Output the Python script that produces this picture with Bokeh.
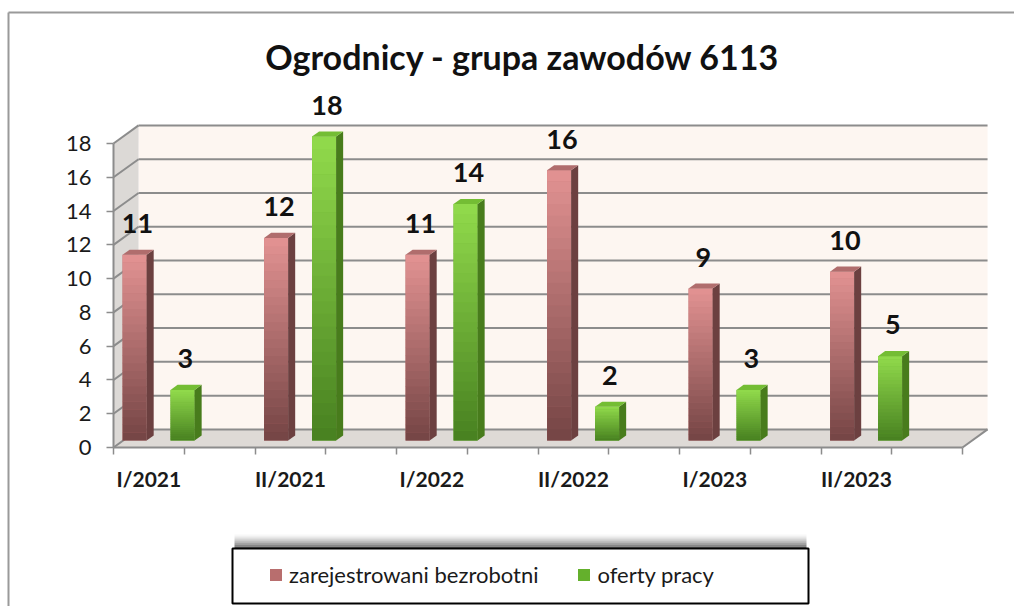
import numpy as np
from bokeh.plotting import figure
from bokeh.models import Range1d, FixedTicker, Legend, LegendItem
from bokeh.core.properties import value
from bokeh.embed import file_html
from bokeh.resources import INLINE

# ---------------- data ----------------
categories = ["I/2021", "II/2021", "I/2022", "II/2022", "I/2023", "II/2023"]
registered = [11, 12, 11, 16, 9, 10]
offers = [3, 18, 14, 2, 3, 5]
series_names = ["zarejestrowani bezrobotni", "oferty pracy"]
y_ticks = [0, 2, 4, 6, 8, 10, 12, 14, 16, 18]
title_text = "Ogrodnicy - grupa zawodów 6113"

# ---------------- layout / style constants ----------------
W, H = 1014, 606
FONT = "Lato"
X0PX, XPX = 113.0, 141.5       # pixel of x=0 and pixels per category
Y0PX, YPX = 447.0, 16.89       # pixel of y=0 and pixels per unit


def xd(px):
    return (px - X0PX) / XPX


def yd(py):
    return (Y0PX - py) / YPX


N = len(categories)
YMAX = y_ticks[-1]
DX, DY = 0.177, 1.07          # depth of the back wall (data units)
BASE = 0.41                    # bar base (mid depth)
BW = 0.17                      # bar front width
SDX, SDY = 0.05, 0.30          # bar side / top depth
OFFS = [0.064, 0.403]          # bar left position inside a category
NSTRIP = 24                    # gradient strips
LABEL_GAP = 1.85               # value label baseline above bar front top

front_cols = [("#744444", "#e39393"), ("#478020", "#92db4c")]   # (bottom, top)
side_cols = [("#4f2b2b", "#8a5656"), ("#335d10", "#5c9c28")]
top_cols = ["#b06d6d", "#74bd34"]
legend_cols = ["#b86e6e", "#64b02c"]
GRID = "#8c8c8c"


def hex2rgb(h):
    h = h.lstrip("#")
    return np.array([int(h[i:i + 2], 16) for i in (0, 2, 4)], dtype=float)


def lerp(c1, c2, t):
    c = hex2rgb(c1) * (1 - t) + hex2rgb(c2) * t
    return "#%02x%02x%02x" % tuple(int(round(v)) for v in c)


p = figure(width=W, height=H, title=None,
           x_range=Range1d(xd(0), xd(W)), y_range=Range1d(yd(H), yd(0)),
           output_backend="svg", toolbar_location=None,
           min_border=0, background_fill_color="white", border_fill_color="white")
p.outline_line_color = None
p.grid.visible = False

# ---------------- outer chart border ----------------
p.segment(x0=[xd(8), xd(8)], y0=[yd(12), yd(12)], x1=[xd(W), xd(8)], y1=[yd(12), yd(H)],
          line_color="#9a9a9a", line_width=2)

# ---------------- title ----------------
p.text(x=[xd(522)], y=[yd(56)], text=[title_text],
       text_font=value(FONT), text_font_style="bold", text_font_size="34px",
       text_color="#111111", text_align="center", text_baseline="middle")

# ---------------- walls & floor ----------------
p.quad(left=DX, right=N + DX, bottom=DY, top=YMAX + DY,
       fill_color="#fdf6f1", line_color=None)
p.patch([0, DX, DX, 0], [0, DY, YMAX + DY, YMAX],
        fill_color="#dcd9d6", line_color=None)
p.patch([0, N, N + DX, DX], [0, 0, DY, DY],
        fill_color="#dedad6", line_color=None)
p.segment(x0=[DX] * len(y_ticks), y0=[v + DY for v in y_ticks],
          x1=[N + DX] * len(y_ticks), y1=[v + DY for v in y_ticks],
          line_color=GRID, line_width=2)
p.segment(x0=[0] * len(y_ticks), y0=y_ticks,
          x1=[DX] * len(y_ticks), y1=[v + DY for v in y_ticks],
          line_color=GRID, line_width=2)
p.segment(x0=[N], y0=[0], x1=[N + DX], y1=[DY], line_color=GRID, line_width=2)

# ---------------- bars ----------------
legend_renderers = []
for s, vals in enumerate([registered, offers]):
    lefts = [i + OFFS[s] for i in range(N)]
    rights = [x + BW for x in lefts]
    tops = [BASE + v for v in vals]
    r = p.quad(left=lefts, right=rights, bottom=BASE, top=tops,
               fill_color=legend_cols[s], line_color=None)
    legend_renderers.append(r)
    # gradient strips on the front face
    sl, sr, sb, st, sc = [], [], [], [], []
    for x0, x1, t in zip(lefts, rights, tops):
        for k in range(NSTRIP):
            sl.append(x0)
            sr.append(x1)
            sb.append(BASE + (t - BASE) * k / NSTRIP)
            st.append(min(t, BASE + (t - BASE) * (k + 1) / NSTRIP + 0.02))
            sc.append(lerp(front_cols[s][0], front_cols[s][1], (k + 0.5) / NSTRIP))
    p.quad(left=sl, right=sr, bottom=sb, top=st, fill_color=sc, line_color=None)
    # side faces
    xs_side = [[x1, x1 + SDX, x1 + SDX, x1] for x1 in rights]
    ys_side = [[BASE, BASE + SDY, t + SDY, t] for t in tops]
    p.patches(xs_side, ys_side, fill_color=lerp(side_cols[s][0], side_cols[s][1], 0.5),
              line_color=None)
    # top faces
    xs_top = [[x0, x1, x1 + SDX, x0 + SDX] for x0, x1 in zip(lefts, rights)]
    ys_top = [[t, t, t + SDY, t + SDY] for t in tops]
    p.patches(xs_top, ys_top, fill_color=top_cols[s], line_color=None)
    # value labels
    p.text(x=[x + BW / 2 + 0.02 for x in lefts], y=[t + LABEL_GAP for t in tops],
           text=[str(v) for v in vals],
           text_font=value(FONT), text_font_style="bold", text_font_size="27px",
           text_color="#111111", text_align="center", text_baseline="alphabetic")

# ---------------- axes (fixed at the front edges of the 3-D box) ----------------
xa = p.xaxis[0]
xa.fixed_location = 0
xa.ticker = FixedTicker(ticks=[i + 0.25 for i in range(N)],
                        minor_ticks=[k * 0.5 for k in range(2 * N + 1)])
xa.major_label_overrides = {i + 0.25: c for i, c in enumerate(categories)}
xa.bounds = (0, N)
xa.axis_line_color = GRID
xa.axis_line_width = 2
xa.major_tick_line_color = None
xa.major_tick_out = 0
xa.major_tick_in = 0
xa.minor_tick_out = 7
xa.minor_tick_in = 0
xa.minor_tick_line_color = GRID
xa.minor_tick_line_width = 1.5
xa.major_label_standoff = 11
xa.major_label_text_font = FONT
xa.major_label_text_font_style = "bold"
xa.major_label_text_font_size = "21px"
xa.major_label_text_color = "#1a1a1a"

ya = p.yaxis[0]
ya.fixed_location = 0
ya.ticker = FixedTicker(ticks=y_ticks)
ya.bounds = (0, YMAX)
ya.axis_line_color = GRID
ya.axis_line_width = 2
ya.major_tick_out = 7
ya.major_tick_in = 0
ya.major_tick_line_color = GRID
ya.major_tick_line_width = 1.5
ya.minor_tick_line_color = None
ya.major_label_standoff = 15
ya.major_label_text_font = FONT
ya.major_label_text_font_size = "22px"
ya.major_label_text_color = "#1a1a1a"

# ---------------- legend box with shadow ----------------
BOX_L, BOX_R, BOX_T, BOX_B = 232, 808, 548, 603
for k in range(7):
    p.quad(left=xd(BOX_L + 2), right=xd(BOX_R - 2),
           bottom=yd(BOX_T - 2 * k), top=yd(BOX_T - 2 * k - 2),
           fill_color="black", fill_alpha=0.6 * (1 - k / 7) ** 1.5, line_color=None)
p.quad(left=xd(BOX_L), right=xd(BOX_R), bottom=yd(BOX_B), top=yd(BOX_T),
       fill_color="white", line_color="black", line_width=2)

legend = Legend(items=[LegendItem(label=series_names[s], renderers=[legend_renderers[s]])
                       for s in range(2)],
                orientation="horizontal", location=(268, H - 588),
                border_line_color=None, background_fill_alpha=0,
                label_text_font=FONT, label_text_font_size="22px",
                label_text_color="#1a1a1a", label_height=22,
                glyph_width=15, glyph_height=15, label_standoff=6,
                spacing=38, padding=0, margin=0)
p.add_layout(legend, "center")

open("out.html", "w").write(file_html(p, INLINE))
